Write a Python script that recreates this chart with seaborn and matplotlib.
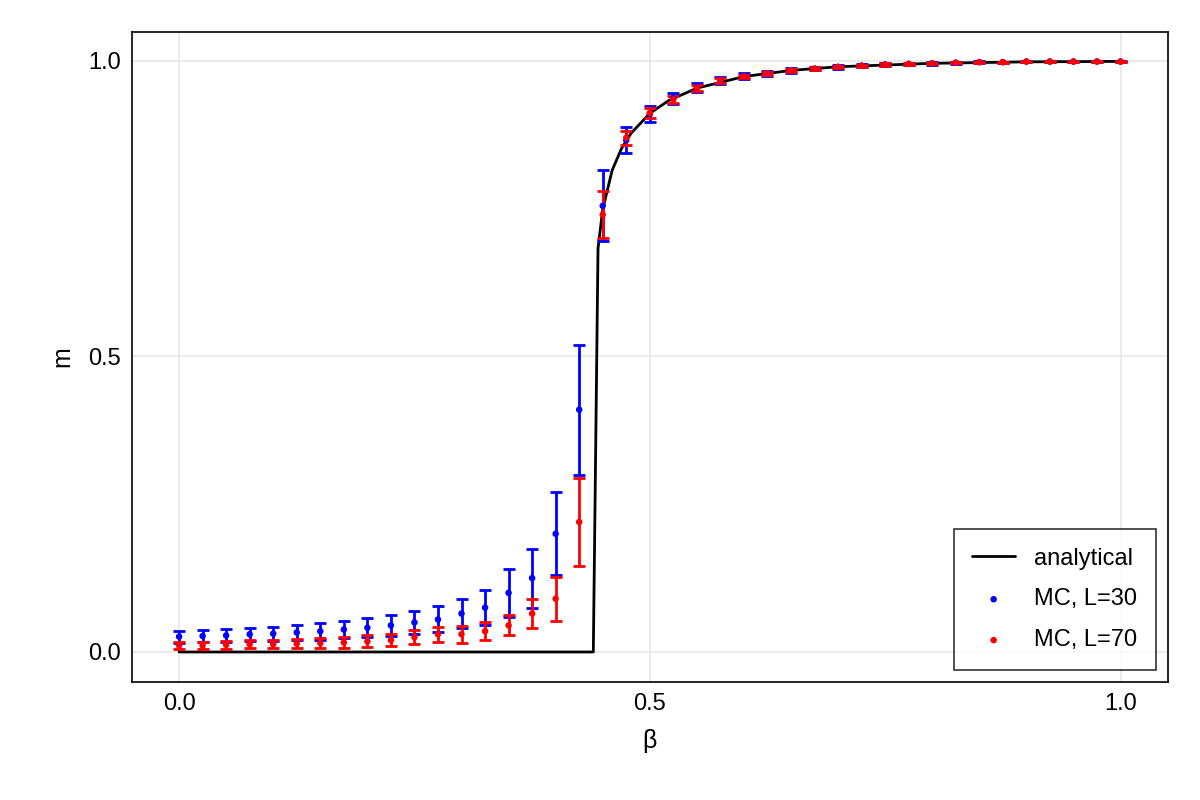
import numpy as np
import pandas as pd
import matplotlib
matplotlib.use("Agg")
import matplotlib.pyplot as plt
import seaborn as sns

beta_mc = [round(0.025 * i, 3) for i in range(41)]
m30 = [0.025, 0.026, 0.027, 0.028, 0.030, 0.031, 0.033, 0.035, 0.038, 0.041,
       0.045, 0.050, 0.055, 0.065, 0.075, 0.100, 0.125, 0.200, 0.410, 0.755,
       0.866, 0.910, 0.937, 0.955, 0.967, 0.974, 0.979, 0.984, 0.987, 0.990,
       0.992, 0.994, 0.995, 0.996, 0.997, 0.998, 0.998, 0.999, 0.999, 0.999, 0.999]
e30 = [0.010, 0.010, 0.010, 0.011, 0.011, 0.012, 0.013, 0.014, 0.015, 0.016,
       0.018, 0.020, 0.022, 0.025, 0.030, 0.040, 0.050, 0.070, 0.110, 0.060,
       0.022, 0.013, 0.009, 0.007, 0.006, 0.005, 0.004, 0.004, 0.003, 0.003,
       0.003, 0.002, 0.002, 0.002, 0.002, 0.002, 0.001, 0.001, 0.001, 0.001, 0.001]
m70 = [0.010, 0.011, 0.011, 0.012, 0.013, 0.013, 0.014, 0.015, 0.016, 0.018,
       0.020, 0.025, 0.030, 0.030, 0.035, 0.045, 0.065, 0.090, 0.220, 0.740,
       0.870, 0.912, 0.935, 0.954, 0.967, 0.974, 0.979, 0.984, 0.987, 0.990,
       0.992, 0.994, 0.995, 0.996, 0.997, 0.998, 0.998, 0.999, 0.999, 0.999, 0.999]
e70 = [0.006, 0.006, 0.006, 0.007, 0.007, 0.007, 0.008, 0.008, 0.009, 0.010,
       0.010, 0.012, 0.013, 0.014, 0.015, 0.017, 0.025, 0.037, 0.075, 0.040,
       0.012, 0.008, 0.006, 0.005, 0.004, 0.003, 0.003, 0.003, 0.002, 0.002,
       0.002, 0.002, 0.001, 0.001, 0.001, 0.001, 0.001, 0.001, 0.001, 0.001, 0.001]
# drop one low-beta value and extend the tail so the rise lands at beta=0.425/0.45
m30 = m30[1:] + [0.999]
e30 = e30[1:] + [0.001]
m70 = m70[1:] + [0.999]
e70 = e70[1:] + [0.001]

beta_an = [0.0, 0.44, 0.445, 0.45, 0.46, 0.47, 0.48, 0.50, 0.52, 0.55, 0.60,
           0.65, 0.70, 0.80, 0.90, 1.0]
m_an = [0.0, 0.0, 0.683, 0.749, 0.815, 0.852, 0.8775, 0.9113, 0.933, 0.954,
        0.9736, 0.984, 0.9902, 0.996, 0.9985, 0.9993]

sns.set_theme(style="white")
plt.rcParams['font.family'] = ['Liberation Sans', 'DejaVu Sans']
plt.rcParams['text.color'] = 'black'
plt.rcParams['axes.labelcolor'] = 'black'
plt.rcParams['xtick.color'] = 'black'
plt.rcParams['ytick.color'] = 'black'

fig = plt.figure(figsize=(12, 8), dpi=100)
ax = fig.add_axes([0.11, 0.1475, 0.863, 0.8125])

sns.lineplot(x=beta_an, y=m_an, color="black", lw=2, ax=ax, label="analytical")
ax.errorbar(beta_mc, m30, yerr=e30, fmt="none", ecolor="blue", elinewidth=2,
            capsize=4, capthick=2)
ax.errorbar(beta_mc, m70, yerr=e70, fmt="none", ecolor="red", elinewidth=2,
            capsize=4, capthick=2)
sns.scatterplot(x=beta_mc, y=m30, color="blue", s=22, edgecolor="none", ax=ax,
                label="MC, L=30", zorder=3)
sns.scatterplot(x=beta_mc, y=m70, color="red", s=22, edgecolor="none", ax=ax,
                label="MC, L=70", zorder=3)

ax.set_xlim(-0.05, 1.05)
ax.set_ylim(-0.0508, 1.049)
ax.set_xticks([0.0, 0.5, 1.0])
ax.set_yticks([0.0, 0.5, 1.0])
ax.set_xticklabels(["0.0", "0.5", "1.0"])
ax.set_yticklabels(["0.0", "0.5", "1.0"])
ax.tick_params(labelsize=17, length=0, pad=8)
ax.grid(True, color="#e6e6e6", lw=1.2)
for s in ax.spines.values():
    s.set_color("black"); s.set_linewidth(1.2)
ax.set_xlabel("β", fontsize=18, labelpad=10)
ax.set_ylabel("m", fontsize=18, labelpad=10)

leg = ax.legend(loc="lower right", fontsize=17, frameon=True, fancybox=False,
                edgecolor="black", markerscale=1.0, borderpad=0.8,
                handlelength=1.8, labelspacing=0.8)
leg.get_frame().set_linewidth(1.2)

fig.savefig("out.png", dpi=100)
